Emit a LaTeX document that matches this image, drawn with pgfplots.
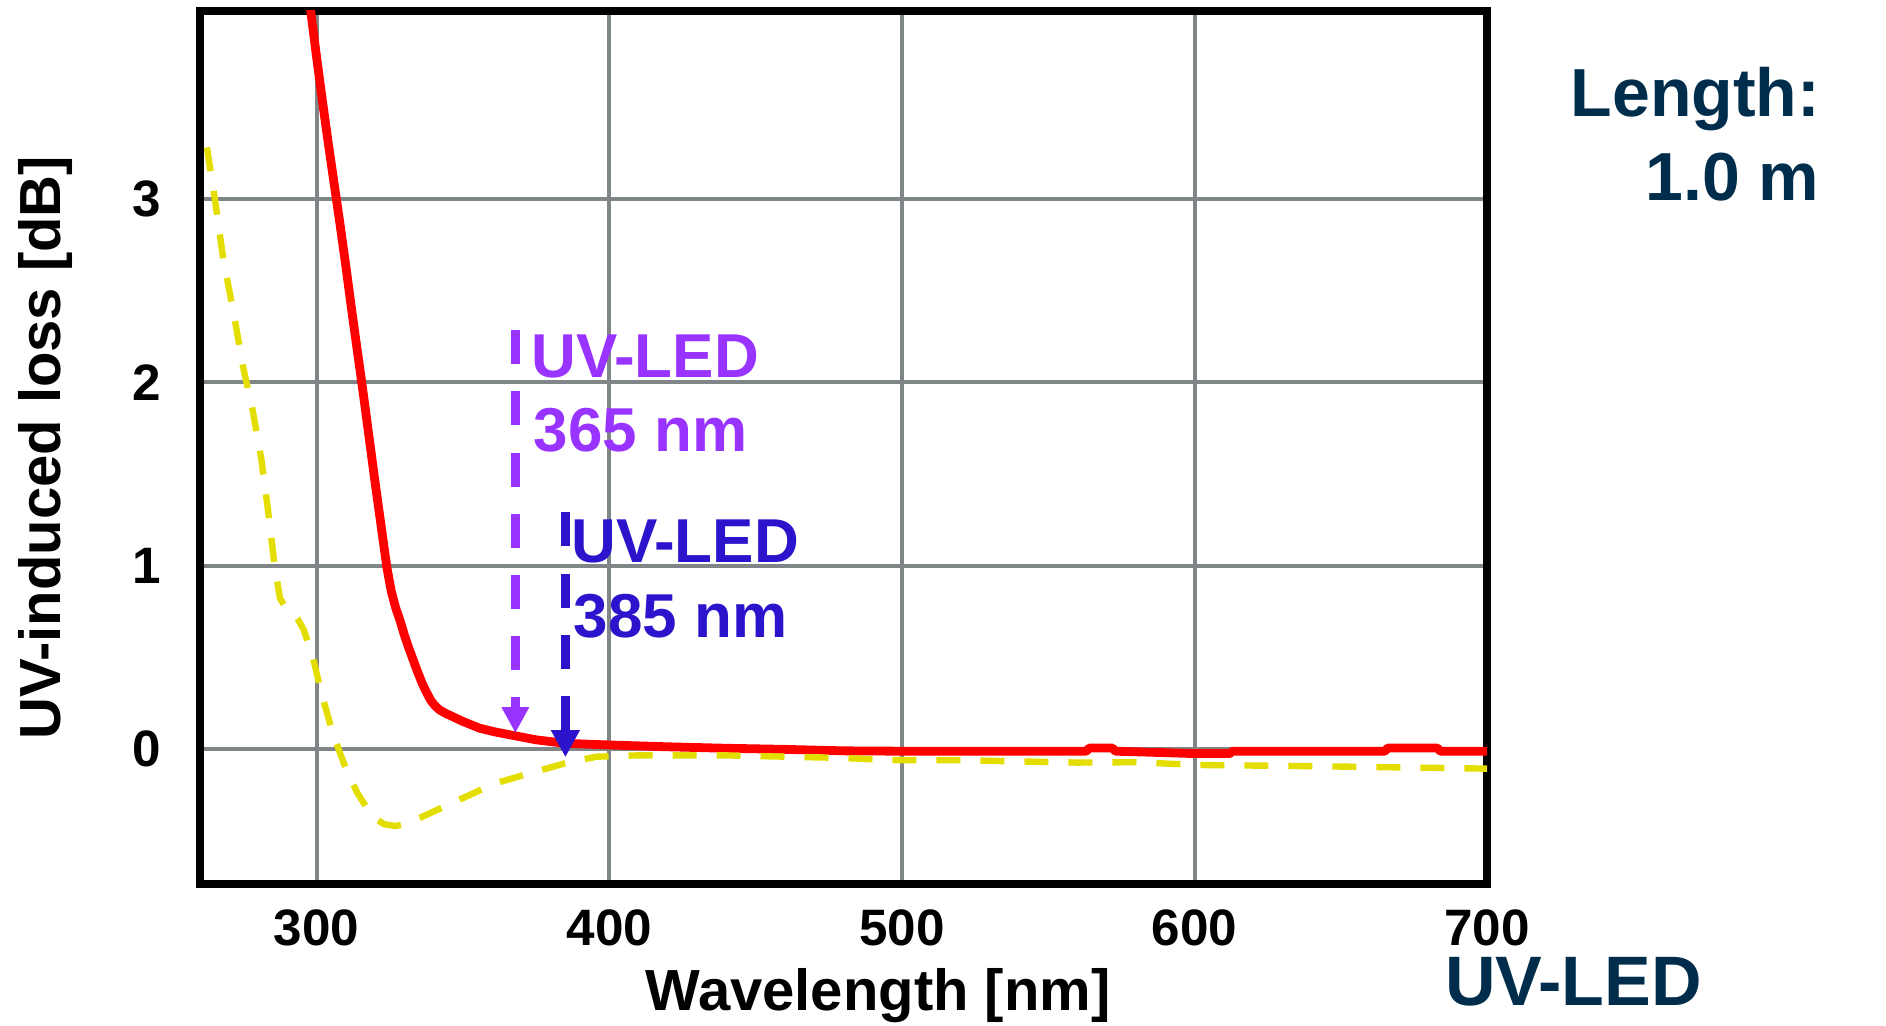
\documentclass[border=0pt]{standalone}
\usepackage{fontspec}
\setmainfont{Liberation Sans}
\usepackage{pgfplots}
\pgfplotsset{compat=1.18}
\usetikzlibrary{arrows.meta}
\definecolor{cred}{RGB}{255,0,0}
\definecolor{cyellow}{RGB}{228,222,0}
\definecolor{cpurple}{RGB}{153,51,255}
\definecolor{cblue}{RGB}{43,20,204}
\definecolor{cnavy}{RGB}{0,45,75}
\definecolor{cgrid}{RGB}{128,133,136}
\begin{document}
\begin{tikzpicture}
\path[use as bounding box] (-49.9pt,-35.5pt) rectangle (421.6pt,221pt);
\begin{axis}[
  scale only axis, width=321.9pt, height=218.25pt,
  xmin=260, xmax=700, ymin=-0.736, ymax=4.024,
  xtick={300,400,500,600,700}, ytick={0,1,2,3},
  grid=major, major grid style={line width=1pt, color=cgrid},
  major tick length=0pt,
  axis line style={line width=2pt, black},
  /pgf/number format/assume math mode=true,
  ticklabel style={font=\fontsize{12.8}{15}\selectfont\bfseries},
  xticklabel style={anchor=center, inner sep=0pt, yshift=-10.9pt},
  yticklabel style={anchor=east, inner sep=0pt, xshift=-9.4pt},
  xlabel={Wavelength [nm]}, ylabel={UV-induced loss [dB]},
  xlabel style={at={(axis description cs:0.5269,-0.1283)}, anchor=center, font=\fontsize{14.5}{17}\selectfont\bfseries},
  ylabel style={at={(axis description cs:-0.1193,0.5)}, anchor=center, font=\fontsize{14.5}{17}\selectfont\bfseries},
]
% red curve
\addplot[cred, line width=2.2pt, line join=round] coordinates {
(297.5,4.10) (298.0,4.02) (300.0,3.77) (302.0,3.53) (304.0,3.30) (306.0,3.08)
(308.0,2.86) (310.0,2.63) (312.0,2.39) (314.0,2.16) (316.0,1.93) (318.0,1.69)
(320.0,1.45) (322.0,1.22) (324.0,0.99) (325.5,0.86) (327.0,0.77) (328.5,0.70)
(330.0,0.62) (331.5,0.55) (333.0,0.485) (334.5,0.42) (336.0,0.36) (337.5,0.31)
(339.0,0.265) (340.5,0.235) (342.0,0.213) (344.0,0.195) (346.0,0.180) (350.0,0.150)
(355.8,0.113) (361.0,0.093) (366.5,0.076) (375.0,0.05)
(384.9,0.031) (400,0.022) (420,0.012) (440,0.004) (460,-0.002) (480,-0.010)
(500,-0.012) (540,-0.012) (563,-0.012) (564,0.005) (572,0.005) (573,-0.012)
(590,-0.020) (600,-0.025) (612,-0.025) (613,-0.012) (650,-0.012) (665,-0.012)
(666,0.005) (683,0.005) (684,-0.012) (700,-0.012)
};
% yellow dashed curve
\addplot[cyellow, line width=1.6pt, dash pattern=on 6pt off 5pt, line join=round] coordinates {
(262.5,3.28) (265.2,3.00) (268.1,2.67) (271.5,2.39) (274.9,2.08) (278.1,1.85)
(281.1,1.58) (283.4,1.30) (285.7,0.99) (287.5,0.82) (289.5,0.77) (291.8,0.74)
(293.5,0.71) (295.6,0.65) (298.7,0.50) (301.7,0.30) (305.5,0.086) (309.3,-0.078)
(313.9,-0.24) (319.2,-0.37) (323.0,-0.41) (326.9,-0.42) (330.0,-0.41) (336.0,-0.37)
(348.3,-0.28) (360.5,-0.19) (371.1,-0.14) (384.9,-0.078) (395.6,-0.042) (409.3,-0.035)
(440,-0.035) (478,-0.048) (498,-0.061) (519,-0.061) (560,-0.074) (580,-0.072)
(601,-0.087) (642,-0.094) (700,-0.107)
};
\draw[cpurple, line width=2.2pt, dash pattern=on 8.5pt off 6.8pt, -{Triangle[length=6.5pt,width=6.5pt]}] (axis cs:367.9,2.283) -- (axis cs:367.9,0.087);
\draw[cblue, line width=2.2pt, dash pattern=on 8.5pt off 6.8pt, -{Triangle[length=6.8pt,width=6.8pt]}] (axis cs:385,1.29) -- (axis cs:385,-0.045);
\end{axis}
\begin{scope}[every node/.style={inner sep=0pt}]
\node[anchor=base east, text=cnavy, font=\fontsize{17}{20}\selectfont\bfseries] at (405.3pt,191.75pt) {Length:};
\node[anchor=base east, text=cnavy, font=\fontsize{17}{20}\selectfont\bfseries] at (405.1pt,170.75pt) {1.0 m};
\node[anchor=base west, text=cnavy, font=\fontsize{17.5}{20}\selectfont\bfseries] at (311.2pt,-30.4pt) {UV-LED};
\node[anchor=base west, text=cpurple, font=\fontsize{15.5}{18}\selectfont\bfseries] at (82.8pt,126.5pt) {UV-LED};
\node[anchor=base west, text=cpurple, font=\fontsize{15.5}{18}\selectfont\bfseries] at (83.3pt,108pt) {365 nm};
\node[anchor=base west, text=cblue, font=\fontsize{15.5}{18}\selectfont\bfseries] at (92.8pt,80.25pt) {UV-LED};
\node[anchor=base west, text=cblue, font=\fontsize{15.5}{18}\selectfont\bfseries] at (93.3pt,61.5pt) {385 nm};
\end{scope}
\end{tikzpicture}
\end{document}
